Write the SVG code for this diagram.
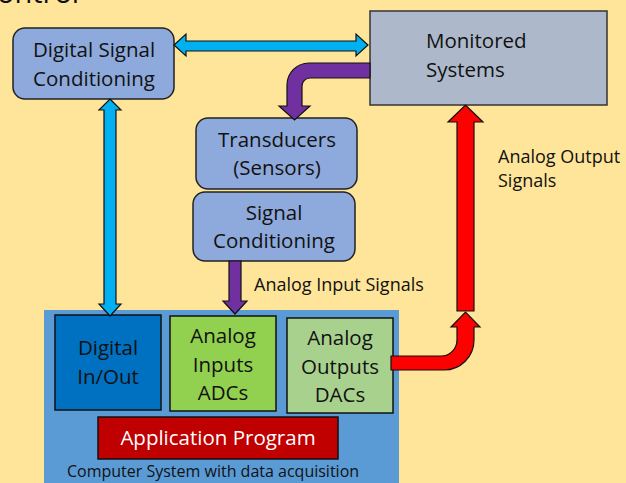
<svg xmlns="http://www.w3.org/2000/svg" width="626" height="483" viewBox="0 0 626 483">
<style>
text { font-family: "Open Sans", Lato, "Liberation Sans", sans-serif; fill: #111; }
.t { font-size: 20.5px; text-anchor: middle; }
.lbl { font-size: 18px; }
.rbox { fill: #8EA9DB; stroke: #222; stroke-width: 1.5; }
.sq { stroke: #111; stroke-width: 1.5; }
.arr { stroke: #111; stroke-width: 1.2; stroke-linejoin: miter; }
</style>
<rect x="0" y="0" width="626" height="483" fill="#FFE599"/>
<text x="-3" y="3" style="font-size:29px">ontrol</text>

<g id="computer-system">
  <rect x="44" y="310" width="355" height="180" fill="#5B9BD5"/>
  <text x="213" y="477" style="font-size:16px; text-anchor:middle">Computer System with data acquisition</text>
</g>
<g id="digital-io">
  <rect class="sq" x="55" y="315" width="106" height="95" fill="#0070C0"/>
  <text class="t" x="108" y="355">Digital</text>
  <text class="t" x="108" y="384">In/Out</text>
</g>
<g id="analog-inputs">
  <rect class="sq" x="170" y="316" width="106" height="95" fill="#92D050"/>
  <text class="t" x="223" y="343">Analog</text>
  <text class="t" x="223" y="372">Inputs</text>
  <text class="t" x="223" y="400">ADCs</text>
</g>
<g id="analog-outputs">
  <rect class="sq" x="287" y="318" width="106" height="95" fill="#A9D18E"/>
  <text class="t" x="340" y="345">Analog</text>
  <text class="t" x="340" y="374">Outputs</text>
  <text class="t" x="340" y="402">DACs</text>
</g>
<g id="application-program">
  <rect class="sq" x="98" y="417" width="240" height="42" fill="#C00000"/>
  <text class="t" x="218" y="445" style="fill:#fff">Application Program</text>
</g>
<g id="digital-signal-conditioning">
  <rect class="rbox" x="13" y="28" width="161" height="71" rx="12"/>
  <text class="t" x="94" y="57">Digital Signal</text>
  <text class="t" x="94" y="86">Conditioning</text>
</g>
<g id="monitored-systems">
  <rect x="370" y="11" width="237" height="94" fill="#ADB9CA" stroke="#333" stroke-width="1.5"/>
  <text x="426" y="48" style="font-size:20.5px">Monitored</text>
  <text x="426" y="77" style="font-size:20.5px">Systems</text>
</g>
<g id="transducers">
  <rect class="rbox" x="196" y="118" width="161" height="71" rx="12"/>
  <text class="t" x="277" y="147">Transducers</text>
  <text class="t" x="277" y="175">(Sensors)</text>
</g>
<g id="signal-conditioning">
  <rect class="rbox" x="193" y="192" width="162" height="69" rx="12"/>
  <text class="t" x="274" y="220">Signal</text>
  <text class="t" x="274" y="248">Conditioning</text>
</g>

<g id="connectors">
  <path class="arr" fill="#00B0F0" d="M 174 45 L 186 34 L 186 41 L 356 41 L 356 34 L 368 45 L 356 56 L 356 51 L 186 51 L 186 56 Z"/>
  <path class="arr" fill="#00B0F0" d="M 110 99 L 121 110 L 116 110 L 116 304 L 121 304 L 110 316 L 99 304 L 104 304 L 104 110 L 99 110 Z"/>
  <path class="arr" fill="#7030A0" d="M 370 63 L 309 63 A 22 22 0 0 0 287 85 L 287 106 L 279 106 L 294.5 120 L 310 106 L 302 106 L 302 86 A 8 8 0 0 1 310 78 L 370 78 Z"/>
  <path class="arr" fill="#7030A0" d="M 229 261 L 241 261 L 241 301 L 247 301 L 235 314 L 223 301 L 229 301 Z"/>
  <path class="arr" fill="#FF0000" d="M 457 311 L 457 122 L 448 122 L 465.5 105 L 483 122 L 474 122 L 474 311 Z"/>
  <path class="arr" fill="#FF0000" d="M 391 356 L 441 356 A 16 16 0 0 0 457 340 L 457 327 L 451 327 L 465.5 312 L 480 327 L 474 327 L 474 340 A 30 30 0 0 1 444 370 L 391 370 Z"/>
  <text class="lbl" x="254" y="291">Analog Input Signals</text>
  <text class="lbl" x="498" y="163">Analog Output</text>
  <text class="lbl" x="498" y="187">Signals</text>
</g>
</svg>
